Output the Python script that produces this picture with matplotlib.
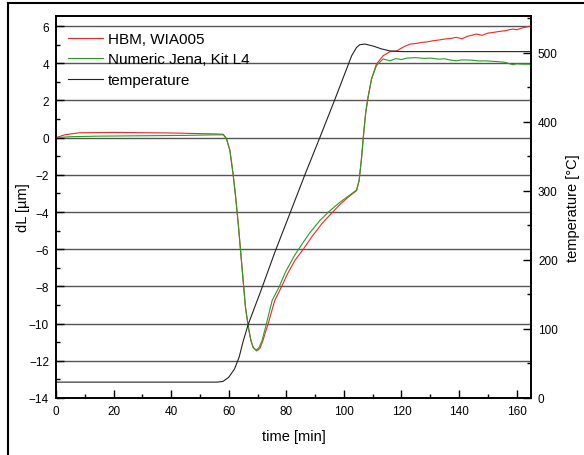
import matplotlib
matplotlib.use('Agg')
import matplotlib.pyplot as plt
from matplotlib.lines import Line2D
from matplotlib.ticker import MultipleLocator

plt.rcParams['font.family'] = ['Liberation Sans', 'DejaVu Sans']

# HBM, WIA005 (red)
t_hbm = [0, 3, 8, 20, 40, 55, 58.1, 59.2, 60.4, 61.5, 62.4, 63.3, 64.1, 65.0, 65.8,
         66.8, 67.7, 68.5, 69.7, 70.8, 71.9, 73.7, 76, 78.3, 80.5, 83, 85.9, 89,
         92.5, 95.5, 98.6, 101.5, 104.4, 105.3, 106.1, 106.9, 107.6, 108.4, 109.6,
         111.3, 113.6, 116, 118.3, 121, 123, 125, 127, 129, 131, 133, 135, 137, 139,
         141, 143, 146, 148, 150, 152, 154, 156, 158.7, 160, 162, 165]
dl_hbm = [0, 0.15, 0.26, 0.28, 0.25, 0.2, 0.18, -0.05, -0.68, -1.94, -3.19, -4.62,
          -6.06, -7.67, -9.1, -10.18, -10.9, -11.29, -11.47, -11.34, -10.9, -10.0,
          -8.75, -8.03, -7.3, -6.6, -6.0, -5.3, -4.6, -4.1, -3.6, -3.2, -2.85, -2.3,
          -1.15, 0.28, 1.36, 2.17, 3.15, 3.95, 4.4, 4.62, 4.66, 4.9, 5.03, 5.06,
          5.12, 5.15, 5.21, 5.25, 5.3, 5.33, 5.39, 5.32, 5.45, 5.57, 5.5, 5.62,
          5.66, 5.71, 5.75, 5.84, 5.8, 5.9, 6.0]

# Numeric Jena, Kit L4 (green)
t_nj = [0, 5, 15, 30, 45, 55, 58.1, 59.2, 60.4, 61.5, 62.4, 63.3, 64.1, 65.0, 65.8,
        66.8, 67.7, 68.5, 69.5, 70.5, 71.6, 73.1, 75.1, 77.5, 79.8, 83, 84.7, 88,
        91.7, 95, 98.6, 101.5, 104.4, 105.3, 106.1, 106.9, 107.6, 108.4, 109.6,
        111.3, 113.6, 116, 118, 120, 122, 125, 128, 130, 133, 135, 137, 139, 141,
        144, 147, 149, 152, 154, 156, 158.7, 160, 162, 165]
dl_nj = [0, 0.05, 0.08, 0.1, 0.12, 0.15, 0.15, -0.05, -0.68, -1.94, -3.19, -4.62,
         -6.06, -7.67, -9.1, -10.18, -10.9, -11.29, -11.42, -11.3, -10.9, -10.0,
         -8.75, -8.03, -7.2, -6.3, -5.9, -5.15, -4.45, -3.95, -3.48, -3.15, -2.82,
         -2.3, -1.15, 0.28, 1.36, 2.17, 3.15, 3.87, 4.23, 4.13, 4.25, 4.2, 4.28,
         4.3, 4.26, 4.28, 4.22, 4.24, 4.17, 4.13, 4.18, 4.17, 4.12, 4.13, 4.1,
         4.08, 4.05, 3.92, 3.97, 3.95, 3.95]

# temperature (black, right axis)
t_temp = [0, 56, 58, 60, 62, 63.6, 65, 66.8, 71.4, 76, 81.3, 86.5, 91.7, 96.9, 102.7,
          104.4, 105.5, 107.3, 110.2, 113, 116, 120, 165]
temp = [23, 23, 24, 30, 42, 59, 82, 107, 158, 211, 268, 324, 378, 433, 496, 508, 512,
        513, 510, 506, 503, 502, 502]

fig = plt.figure(figsize=(5.84, 4.56), dpi=100)
ax = fig.add_axes([56/584, 1-399/456, (531-56)/584, (399-17)/456])

# horizontal grid lines
for yv in range(-12, 7, 2):
    ax.axhline(yv, color='#555555', lw=1.0, zorder=1)

l1, = ax.plot(t_hbm, dl_hbm, color='#ff2020', lw=0.8, zorder=3)
l2, = ax.plot(t_nj, dl_nj, color='#22a022', lw=0.8, zorder=4)

ax.set_xlim(0, 165)
ax.set_ylim(-14, 6.54)
ax.xaxis.set_major_locator(MultipleLocator(20))
ax.xaxis.set_minor_locator(MultipleLocator(10))
ax.yaxis.set_major_locator(MultipleLocator(2))
ax.yaxis.set_minor_locator(MultipleLocator(1))
ax.tick_params(which='both', direction='in', labelsize=8.5, width=1, pad=5)
ax.tick_params(which='major', length=6)
ax.tick_params(which='minor', length=3)
ax.tick_params(top=False, right=False)
for sp in ax.spines.values():
    sp.set_linewidth(1.2)
ax.set_xlabel('time [min]', fontsize=10.5)
ax.set_ylabel('dL [µm]', fontsize=10.5)
ax.xaxis.set_label_coords(0.5, -0.081)
ax.yaxis.set_label_coords(-0.055, 0.5)

ax2 = ax.twinx()
l3, = ax2.plot(t_temp, temp, color='#222222', lw=0.8)
ax2.set_ylim(0, 553.6)
ax2.yaxis.set_major_locator(MultipleLocator(100))
ax2.yaxis.set_minor_locator(MultipleLocator(50))
ax2.tick_params(which='both', direction='in', labelsize=8.5, width=1, pad=5)
ax2.tick_params(which='major', length=6)
ax2.tick_params(which='minor', length=3)
ax2.set_ylabel('temperature [°C]', fontsize=10.5)
ax2.yaxis.set_label_coords(1.074, 0.5)
for sp in ax2.spines.values():
    sp.set_linewidth(1.2)

ax.legend([l1, l2, l3], ['HBM, WIA005', 'Numeric Jena, Kit L4', 'temperature'],
          loc='upper left', bbox_to_anchor=(0.005, 0.982), frameon=False, fontsize=11,
          handlelength=2.3, handletextpad=0.35, labelspacing=0.42, borderaxespad=0.2)

# outer frame (left and top edges visible)
fig.add_artist(Line2D([8/584, 8/584], [0, 1-4/456], color='black', lw=1.5,
                      transform=fig.transFigure))
fig.add_artist(Line2D([8/584, 1], [1-4/456, 1-4/456], color='black', lw=1.5,
                      transform=fig.transFigure))

fig.savefig('out.png', dpi=100)
